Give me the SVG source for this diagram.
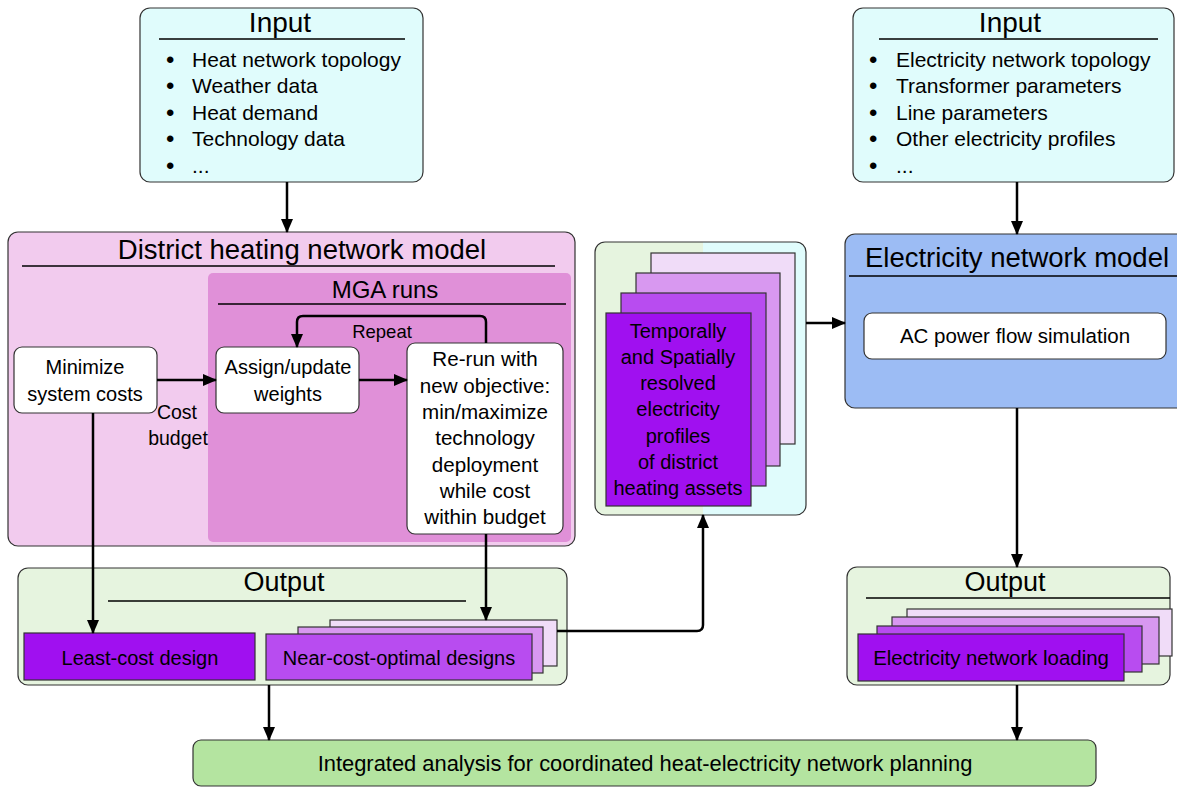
<svg xmlns="http://www.w3.org/2000/svg" width="1177" height="787" viewBox="0 0 1177 787">
<defs>
<marker id="ah" markerUnits="userSpaceOnUse" markerWidth="14" markerHeight="12" refX="13" refY="6" orient="auto">
<path d="M0,0 L14,6 L0,12 z" fill="#000"/>
</marker>
<style>
text{font-family:"Liberation Sans",Arial,sans-serif;fill:#000}
.b{font-size:20px}
.l{font-size:21px}
.bu{font-size:24px}
.c{text-anchor:middle}
.t{font-size:27.5px;text-anchor:middle}
.h{font-size:24px;text-anchor:middle}
.o{font-size:27px;text-anchor:middle}
.box{stroke:#333;stroke-width:1.2}
.ul{stroke:#000;stroke-width:1.5}
.p1{fill:#a010f0;stroke:#333;stroke-width:1.2}
.p2{fill:#b84cf0;stroke:#333;stroke-width:1.2}
.p3{fill:#d898f0;stroke:#333;stroke-width:1.2}
.p4{fill:#f0dcf8;stroke:#333;stroke-width:1.2}
.w{fill:#fff;stroke:#333;stroke-width:1.2}
.con{fill:none;stroke:#000;stroke-width:2.5;marker-end:url(#ah)}
</style>
</defs>

<g id="input-heat">
<rect x="140" y="8" width="283" height="174" rx="10" fill="#e0fcfc" class="box"/>
<text x="280" y="32" class="o" style="font-size:28px">Input</text>
<line x1="159" y1="39" x2="405" y2="39" class="ul"/>
<text x="166" y="68" class="bu">•</text><text x="192" y="67" class="l">Heat network topology</text>
<text x="166" y="94" class="bu">•</text><text x="192" y="93" class="l">Weather data</text>
<text x="166" y="121" class="bu">•</text><text x="192" y="120" class="l">Heat demand</text>
<text x="166" y="147" class="bu">•</text><text x="192" y="146" class="l">Technology data</text>
<text x="166" y="174" class="bu">•</text><text x="192" y="173" class="l">...</text>
</g>

<g id="input-elec">
<rect x="853" y="8" width="321" height="174" rx="10" fill="#e0fcfc" class="box"/>
<text x="1010" y="32" class="o" style="font-size:28px">Input</text>
<line x1="879" y1="39" x2="1158" y2="39" class="ul"/>
<text x="869" y="68" class="bu">•</text><text x="896" y="67" class="l">Electricity network topology</text>
<text x="869" y="94" class="bu">•</text><text x="896" y="93" class="l">Transformer parameters</text>
<text x="869" y="121" class="bu">•</text><text x="896" y="120" class="l">Line parameters</text>
<text x="869" y="147" class="bu">•</text><text x="896" y="146" class="l">Other electricity profiles</text>
<text x="869" y="174" class="bu">•</text><text x="896" y="173" class="l">...</text>
</g>

<g id="dhn-model">
<rect x="8" y="232" width="567" height="314" rx="10" fill="#f2cbee" class="box"/>
<text x="302" y="259" class="t">District heating network model</text>
<line x1="22" y1="266" x2="555" y2="266" class="ul"/>
</g>

<g id="mga-runs">
<rect x="208" y="273" width="363" height="269" rx="5" fill="#e090d8"/>
<text x="385" y="298" class="h">MGA runs</text>
<line x1="218" y1="304" x2="566" y2="304" class="ul"/>
<text x="382" y="338" class="c" style="font-size:18.5px">Repeat</text>
</g>

<g id="minimize">
<rect x="14" y="347" width="143" height="66" rx="8" class="w"/>
<text x="85" y="374" class="b c">Minimize</text>
<text x="85" y="401" class="b c">system costs</text>
</g>
<text x="177" y="419" class="c" style="font-size:19.5px">Cost</text>
<text x="178" y="445" class="c" style="font-size:19.5px">budget</text>

<g id="assign">
<rect x="216" y="347" width="143" height="66" rx="8" class="w"/>
<text x="288" y="374" class="b c">Assign/update</text>
<text x="288" y="401" class="b c">weights</text>
</g>

<g id="rerun">
<rect x="407" y="343" width="156" height="191" rx="8" class="w"/>
<g class="c" style="font-size:20.6px">
<text x="485" y="366">Re-run with</text>
<text x="485" y="393">new objective:</text>
<text x="485" y="419">min/maximize</text>
<text x="485" y="445">technology</text>
<text x="485" y="472">deployment</text>
<text x="485" y="498">while cost</text>
<text x="485" y="524">within budget</text>
</g>
</g>

<g id="output-heat">
<rect x="18" y="568" width="549" height="117" rx="10" fill="#e6f4df" class="box"/>
<text x="284" y="591" class="o">Output</text>
<line x1="108" y1="601" x2="466" y2="601" class="ul"/>
</g>

<g id="least-cost">
<rect x="24" y="633" width="231" height="47" class="p1"/>
<text x="140" y="665" class="b c">Least-cost design</text>
</g>

<g id="near-cost">
<rect x="330" y="620" width="227" height="46" class="p4"/>
<rect x="298" y="627" width="245" height="46" class="p3"/>
<rect x="266" y="634" width="266" height="46" class="p2"/>
<text x="399" y="665" class="b c">Near-cost-optimal designs</text>
</g>

<g id="profiles">
<rect x="595" y="242" width="211" height="273" rx="10" fill="#e0fcfc"/>
<path d="M703,242 H605 A10,10 0 0 0 595,252 V505 A10,10 0 0 0 605,515 H703 Z" fill="#e6f4df"/>
<rect x="595" y="242" width="211" height="273" rx="10" fill="none" class="box"/>
<rect x="651" y="253" width="144" height="191" class="p4"/>
<rect x="636" y="273" width="144" height="193" class="p3"/>
<rect x="621" y="293" width="145" height="193" class="p2"/>
<rect x="606" y="313" width="145" height="193" class="p1"/>
<g class="b c">
<text x="678" y="338">Temporally</text>
<text x="678" y="364">and Spatially</text>
<text x="678" y="390">resolved</text>
<text x="678" y="416">electricity</text>
<text x="678" y="443">profiles</text>
<text x="678" y="469">of district</text>
<text x="678" y="495">heating assets</text>
</g>
</g>

<g id="elec-model">
<rect x="845" y="234" width="345" height="174" rx="10" fill="#9cbcf4" class="box"/>
<text x="1017" y="267" class="t">Electricity network model</text>
<line x1="849" y1="276" x2="1177" y2="276" class="ul"/>
</g>

<g id="ac-flow">
<rect x="864" y="313" width="302" height="46" rx="8" class="w"/>
<text x="1015" y="343" class="c" style="font-size:20.5px">AC power flow simulation</text>
</g>

<g id="output-elec">
<rect x="847" y="567" width="323" height="118" rx="10" fill="#e6f4df" class="box"/>
<text x="1005" y="591" class="o">Output</text>
<line x1="866" y1="598" x2="1170" y2="598" class="ul"/>
</g>

<g id="loading">
<rect x="907" y="609" width="265" height="47" class="p4"/>
<rect x="892" y="617" width="267" height="47" class="p3"/>
<rect x="877" y="626" width="265" height="46" class="p2"/>
<rect x="858" y="634" width="266" height="47" class="p1"/>
<text x="991" y="665" class="c" style="font-size:20.4px">Electricity network loading</text>
</g>

<g id="integrated">
<rect x="193" y="740" width="903" height="46" rx="8" fill="#b4e4a0" class="box"/>
<text x="645" y="771" class="c" style="font-size:21.9px">Integrated analysis for coordinated heat-electricity network planning</text>
</g>

<g id="connectors">
<path d="M287,182 V232" class="con"/>
<path d="M1017,182 V234" class="con"/>
<path d="M157,380 H216" class="con"/>
<path d="M359,380 H407" class="con"/>
<path d="M486,343 V322 Q486,316 480,316 H303 Q297,316 297,322 V347" class="con"/>
<path d="M93,413 V633" class="con"/>
<path d="M486,534 V620" class="con"/>
<path d="M557,631 H697 Q703,631 703,625 V515" class="con"/>
<path d="M806,323 H845" class="con"/>
<path d="M1017,408 V567" class="con"/>
<path d="M269,685 V740" class="con"/>
<path d="M1017,685 V740" class="con"/>
</g>
</svg>
